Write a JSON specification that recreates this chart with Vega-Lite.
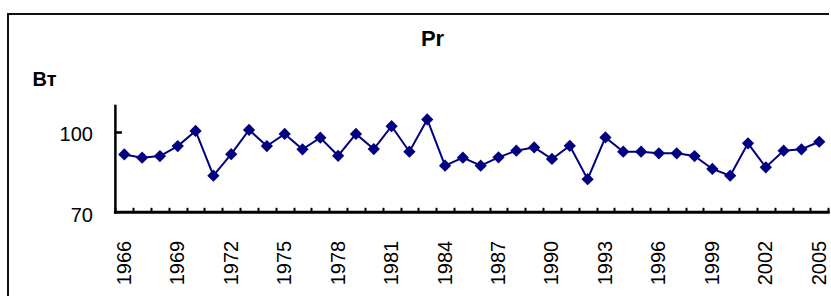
{
  "$schema": "https://vega.github.io/schema/vega-lite/v6.json",
  "width": 823,
  "height": 282,
  "autosize": {"type": "none"},
  "padding": {"left": 8, "top": 14, "right": 0, "bottom": 0},
  "background": "white",
  "config": {
    "view": {"stroke": "#111111", "strokeWidth": 2, "strokeDash": [821, 1107, 282, 10], "fill": null},
    "font": "Liberation Sans"
  },
  "title": {
    "text": "Pr",
    "font": "Liberation Sans",
    "fontSize": 22,
    "fontWeight": "bold",
    "color": "black",
    "anchor": "middle",
    "frame": "group",
    "dx": 13,
    "offset": -37
  },
  "data": {"values": [
    {"year": 1966, "v": 91.5}, {"year": 1967, "v": 90.3}, {"year": 1968, "v": 90.9}, {"year": 1969, "v": 94.6},
    {"year": 1970, "v": 100.2}, {"year": 1971, "v": 83.6}, {"year": 1972, "v": 91.6}, {"year": 1973, "v": 100.6},
    {"year": 1974, "v": 94.6}, {"year": 1975, "v": 99.1}, {"year": 1976, "v": 93.4}, {"year": 1977, "v": 97.7},
    {"year": 1978, "v": 91.0}, {"year": 1979, "v": 99.1}, {"year": 1980, "v": 93.5}, {"year": 1981, "v": 102.0},
    {"year": 1982, "v": 92.5}, {"year": 1983, "v": 104.5}, {"year": 1984, "v": 87.3}, {"year": 1985, "v": 90.3},
    {"year": 1986, "v": 87.3}, {"year": 1987, "v": 90.4}, {"year": 1988, "v": 92.9}, {"year": 1989, "v": 94.1},
    {"year": 1990, "v": 89.8}, {"year": 1991, "v": 94.7}, {"year": 1992, "v": 82.3}, {"year": 1993, "v": 97.8},
    {"year": 1994, "v": 92.5}, {"year": 1995, "v": 92.5}, {"year": 1996, "v": 91.9}, {"year": 1997, "v": 91.9},
    {"year": 1998, "v": 90.9}, {"year": 1999, "v": 86.1}, {"year": 2000, "v": 83.6}, {"year": 2001, "v": 95.6},
    {"year": 2002, "v": 86.7}, {"year": 2003, "v": 92.9}, {"year": 2004, "v": 93.4}, {"year": 2005, "v": 96.2}
  ]},
  "resolve": {"axis": {"x": "independent", "y": "independent"}},
  "layer": [
    {
      "data": {"values": [{}]},
      "mark": {"type": "rule", "color": "black", "strokeWidth": 3, "strokeCap": "square"},
      "encoding": {
        "x": {"datum": 1965.5, "type": "quantitative",
          "axis": {"orient": "bottom", "offset": -83.7, "values": [1965.5,1966.5,1967.5,1968.5,1969.5,1970.5,1971.5,1972.5,1973.5,1974.5,1975.5,1976.5,1977.5,1978.5,1979.5,1980.5,1981.5,1982.5,1983.5,1984.5,1985.5,1986.5,1987.5,1988.5,1989.5,1990.5,1991.5,1992.5,1993.5,1994.5,1995.5,1996.5,1997.5,1998.5,1999.5,2000.5,2001.5,2002.5,2003.5,2004.5,2005.5],
            "labels": false, "domain": false, "grid": false, "ticks": true, "tickSize": -5, "tickWidth": 2, "tickColor": "black", "title": null}},
        "x2": {"datum": 2005.5},
        "y": {"datum": 70, "type": "quantitative",
          "axis": {"orient": "left", "offset": -107.4, "values": [100], "labels": false, "domain": false, "grid": false,
            "ticks": true, "tickSize": -6, "tickWidth": 2.5, "tickColor": "black", "title": null}}
      }
    },
    {
      "data": {"values": [{}]},
      "mark": {"type": "rule", "color": "black", "strokeWidth": 2.5, "strokeCap": "square"},
      "encoding": {
        "x": {"datum": 1965.5, "type": "quantitative", "axis": null},
        "y": {"datum": 70, "type": "quantitative", "axis": null},
        "y2": {"datum": 109.5}
      }
    },
    {
      "mark": {"type": "line", "color": "#000080", "strokeWidth": 2,
        "point": {"shape": "diamond", "size": 150, "filled": true, "color": "#000080", "opacity": 1}},
      "encoding": {
        "x": {"field": "year", "type": "quantitative",
          "scale": {"domain": [1959.474, 2005.658], "nice": false, "zero": false},
          "axis": {"orient": "bottom", "offset": -83.7, "values": [1966,1969,1972,1975,1978,1981,1984,1987,1990,1993,1996,1999,2002,2005],
            "format": "d", "labelAngle": -90, "labelAlign": "right", "labelBaseline": "middle", "labelPadding": 28,
            "labelFont": "Liberation Sans", "labelFontSize": 20, "labelColor": "black",
            "ticks": false, "domain": false, "grid": false, "title": null, "labelOverlap": false, "labelFlush": false}},
        "y": {"field": "v", "type": "quantitative",
          "scale": {"domain": [38.92, 143.64], "nice": false, "zero": false},
          "axis": {"orient": "left", "offset": -107.4, "values": [70, 100], "labelPadding": 23, "labelOffset": 3,
            "labelFont": "Liberation Sans", "labelFontSize": 20, "labelColor": "black", "labelBaseline": "middle",
            "ticks": false, "domain": false, "grid": false,
            "title": "Вт", "titleAngle": 0, "titleAlign": "left", "titleBaseline": "alphabetic",
            "titleX": -83.4, "titleY": 71, "titleFont": "Liberation Sans", "titleFontSize": 20, "titleFontWeight": "bold", "titleColor": "black"}}
      }
    }
  ]
}
